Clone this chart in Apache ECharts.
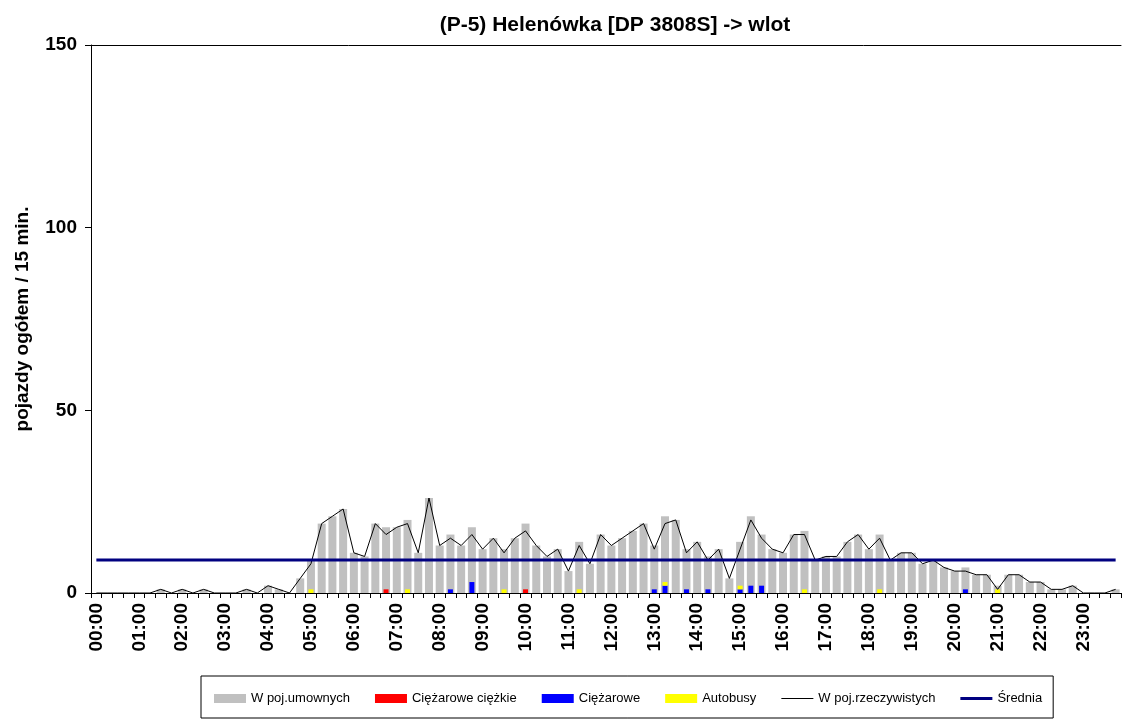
<!DOCTYPE html>
<html>
<head>
<meta charset="utf-8">
<script src="https://cdn.jsdelivr.net/npm/echarts@6/dist/echarts.min.js"></script>
<style>
html,body{margin:0;padding:0;background:#fff;}
#chart{width:1123px;height:721px;}
</style>
</head>
<body>
<div id="chart"></div>
<script>
var categories = [
"00:00","00:15","00:30","00:45","01:00","01:15","01:30","01:45",
"02:00","02:15","02:30","02:45","03:00","03:15","03:30","03:45",
"04:00","04:15","04:30","04:45","05:00","05:15","05:30","05:45",
"06:00","06:15","06:30","06:45","07:00","07:15","07:30","07:45",
"08:00","08:15","08:30","08:45","09:00","09:15","09:30","09:45",
"10:00","10:15","10:30","10:45","11:00","11:15","11:30","11:45",
"12:00","12:15","12:30","12:45","13:00","13:15","13:30","13:45",
"14:00","14:15","14:30","14:45","15:00","15:15","15:30","15:45",
"16:00","16:15","16:30","16:45","17:00","17:15","17:30","17:45",
"18:00","18:15","18:30","18:45","19:00","19:15","19:30","19:45",
"20:00","20:15","20:30","20:45","21:00","21:15","21:30","21:45",
"22:00","22:15","22:30","22:45","23:00","23:15","23:30","23:45"
];

// W poj.umownych (equivalent vehicles)
var umownych = [
0,0,0,0,0,0,1,0,1,0,1,0,0,0,1,0,2,1,0,4,
9,19,21,23,11,10,19,18,18,20,
11,26,13,16,13,18,12,15,12,15,
19,13,10,12,6,14,8,16,13,15,
17,19,13,21,20,12,14,10,12,4,
14,21,16,12,11,16,17,9,10,10,
14,16,12,16,9,11,11,8,9,7,
6,7,5,5,2,5,5,3,3,1,
1,2,0,0,0,1
];

// W poj.rzeczywistych (real vehicles)
var rzeczywistych = [
0,0,0,0,0,0,1,0,1,0,1,0,0,0,1,0,2,1,0,4,
8,19,21,23,11,10,19,16,18,19,
11,26,13,15,13,16,12,15,11,15,
17,13,10,12,6,13,8,16,13,15,
17,19,12,19,20,11,14,9,12,4,
12,20,15,12,11,16,16,9,10,10,
14,16,12,15,9,11,11,8,9,7,
6,6,5,5,1,5,5,3,3,1,
1,2,0,0,0,1
];

// Small category counts: slot indices and counts
var ciezkieIdx = [27, 40];
var ciezkieVal = [1, 1];
var ciezaroweIdx = [33, 35, 52, 53, 55, 57, 60, 61, 62, 81];
var ciezaroweVal = [1, 3, 1, 2, 1, 1, 1, 2, 2, 1];
var autobusyIdx = [20, 29, 38, 45, 53, 60, 66, 73, 84];
var autobusyVal = [1, 1, 1, 1, 1, 1, 1, 1, 1];

var yTicks = [0, 50, 100, 150];

function spread(idx, val) {
  var arr = categories.map(function(){ return null; });
  idx.forEach(function(k, j){ arr[k] = val[j]; });
  return arr;
}
var sum = rzeczywistych.reduce(function(a,b){return a+b;}, 0);
var avg = sum / rzeczywistych.length;
var srednia = categories.map(function(){ return avg; });

// legend line icons (thin corner dots keep the 32x9 box)
var CORNERS = 'M0,0 L0.01,0 L0.01,0.01 Z M31.99,8.99 L32,8.99 L32,9 Z ';
var thinLineIcon = 'path://' + CORNERS + 'M0,4 L32,4 L32,5 L0,5 Z';
var thickLineIcon = 'path://' + CORNERS + 'M0,3 L32,3 L32,6 L0,6 Z';

var FONT = 'Liberation Sans, Arial, sans-serif';
var chart = echarts.init(document.getElementById('chart'));
chart.setOption({
  animation: false,
  backgroundColor: '#ffffff',
  title: {
    text: '(P-5) Helenówka [DP 3808S] -> wlot',
    left: 610, top: 10, textAlign: 'center',
    textStyle: {fontFamily: FONT, fontWeight: 'bold', fontSize: 21, color: '#000'}
  },
  legend: {
    left: 201, top: 676,
    padding: [16, 11, 13, 13],
    itemGap: 25, itemWidth: 32, itemHeight: 9,
    borderColor: '#000', borderWidth: 1,
    textStyle: {fontFamily: FONT, fontSize: 13, color: '#000'},
    data: [
      {name: 'W poj.umownych', icon: 'rect'},
      {name: 'Ciężarowe ciężkie', icon: 'rect'},
      {name: 'Ciężarowe', icon: 'rect'},
      {name: 'Autobusy', icon: 'rect'},
      {name: 'W poj.rzeczywistych', icon: thinLineIcon, symbolKeepAspect: false},
      {name: 'Średnia', icon: thickLineIcon, symbolKeepAspect: false}
    ]
  },
  grid: {left: 91, right: 2, top: 45, bottom: 128, containLabel: false},
  xAxis: [
    {
      type: 'category', data: categories, boundaryGap: true, position: 'bottom',
      axisLine: {lineStyle: {color: '#000', width: 1}},
      axisTick: {show: true, interval: 0, length: 5, lineStyle: {color: '#000'}},
      axisLabel: {
        interval: 3, rotate: 90, margin: 10,
        fontFamily: FONT, fontWeight: 'bold', fontSize: 19, color: '#000'
      },
      splitLine: {show: false}
    },
    {
      type: 'category', data: categories, boundaryGap: true, position: 'top',
      axisLine: {show: true, lineStyle: {color: '#000', width: 1}},
      axisTick: {show: false}, axisLabel: {show: false}, splitLine: {show: false}
    }
  ],
  yAxis: {
    type: 'value', min: 0, max: 150, interval: 50,
    name: 'pojazdy ogółem / 15 min.', nameLocation: 'middle', nameGap: 59, nameRotate: 90,
    nameTextStyle: {fontFamily: FONT, fontWeight: 'bold', fontSize: 19, color: '#000'},
    axisLine: {show: true, lineStyle: {color: '#000', width: 1}},
    axisTick: {show: true, length: 6, lineStyle: {color: '#000'}},
    axisLabel: {
      margin: 14, fontFamily: FONT, fontWeight: 'bold', fontSize: 19, color: '#000',
      formatter: function(v){ return yTicks.indexOf(v) >= 0 ? String(v) : ''; }
    },
    splitLine: {show: false}
  },
  series: [
    {
      name: 'W poj.umownych', type: 'bar', xAxisIndex: 0, data: umownych,
      barWidth: 8, itemStyle: {color: '#C0C0C0'}, z: 2
    },
    {
      name: 'Ciężarowe ciężkie', type: 'bar', xAxisIndex: 1, stack: 'small',
      data: spread(ciezkieIdx, ciezkieVal), barWidth: 5,
      itemStyle: {color: '#FF0000'}, z: 3
    },
    {
      name: 'Ciężarowe', type: 'bar', xAxisIndex: 1, stack: 'small',
      data: spread(ciezaroweIdx, ciezaroweVal), barWidth: 5,
      itemStyle: {color: '#0000FF'}, z: 3
    },
    {
      name: 'Autobusy', type: 'bar', xAxisIndex: 1, stack: 'small',
      data: spread(autobusyIdx, autobusyVal), barWidth: 5,
      itemStyle: {color: '#FFFF00'}, z: 3
    },
    {
      name: 'W poj.rzeczywistych', type: 'line', xAxisIndex: 0, data: rzeczywistych,
      symbol: 'none', lineStyle: {color: '#000', width: 1}, itemStyle: {color: '#000'}, z: 4
    },
    {
      name: 'Średnia', type: 'line', xAxisIndex: 0, data: srednia,
      symbol: 'none', lineStyle: {color: '#000080', width: 3}, itemStyle: {color: '#000080'}, z: 5
    }
  ]
});
</script>
</body>
</html>
